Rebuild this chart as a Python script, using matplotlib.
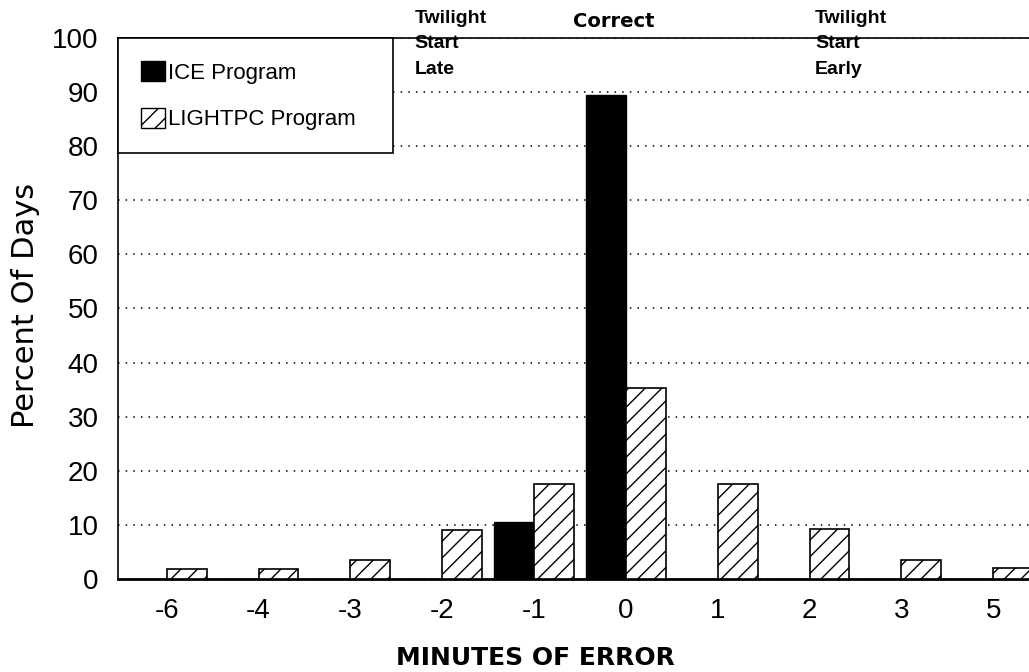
import matplotlib
matplotlib.use("Agg")
import matplotlib.pyplot as plt
from matplotlib.patches import Patch
from matplotlib import transforms
import numpy as np

# minutes of error categories
categories = ["-6", "-4", "-3", "-2", "-1", "0", "1", "2", "3", "5"]
ice_values = [0, 0, 0, 0, 10.5, 89.5, 0, 0, 0, 0]
lightpc_values = [1.8, 1.8, 3.6, 9.0, 17.6, 35.3, 17.6, 9.2, 3.6, 2.0]
y_ticks = [0, 10, 20, 30, 40, 50, 60, 70, 80, 90, 100]

plt.rcParams['font.family'] = ['Liberation Sans', 'DejaVu Sans']
plt.rcParams['hatch.linewidth'] = 1.0

fig = plt.figure(figsize=(10.29, 6.72), dpi=100)
ax = fig.add_axes([0.1147, 0.1384, 0.8853, 0.8051])

x = np.arange(len(categories))
w = 0.435
ax.bar(x - w / 2, ice_values, w, color="black", edgecolor="black", linewidth=1, zorder=3)
ax.bar(x + w / 2, lightpc_values, w, color="white", edgecolor="black", linewidth=1.2,
       hatch="//", zorder=3)

ax.set_xlim(-0.53, 9.39)
ax.set_ylim(0, 100)
ax.set_yticks(y_ticks)
ax.set_xticks(x)
ax.set_xticklabels(categories)
ax.tick_params(axis="both", length=0, labelsize=20)
ax.tick_params(axis="y", pad=14)
ax.tick_params(axis="x", pad=14)

ax.yaxis.grid(True, linestyle=(0, (1, 4)), color="black", linewidth=1.1)
ax.set_axisbelow(True)
ax.spines["right"].set_visible(False)
for s in ["left", "top"]:
    ax.spines[s].set_linewidth(1.2)
ax.spines["bottom"].set_linewidth(2)

ax.set_ylabel("Percent Of Days", fontsize=22, family="DejaVu Sans")
ax.yaxis.set_label_coords(-0.102, 0.506)
ax.yaxis.label.set_va("center")
ax.set_xlabel("MINUTES OF ERROR", fontsize=18, fontweight="bold", family="DejaVu Sans")
ax.xaxis.set_label_coords(0.458, -0.124)

handles = [Patch(facecolor="black", edgecolor="black", label="ICE Program"),
           Patch(facecolor="white", edgecolor="black", hatch="//", label="LIGHTPC Program")]
leg = ax.legend(handles=handles, loc="upper left", bbox_to_anchor=(0, 1, 0.302, 0),
                mode="expand", borderaxespad=0,
                fancybox=False, edgecolor="black", framealpha=1, fontsize=16,
                handlelength=1.1, handleheight=1.05, handletextpad=0.15,
                labelspacing=1.08, borderpad=1.02)
leg.get_frame().set_linewidth(1.2)
leg.set_zorder(5)

trans = transforms.blended_transform_factory(ax.transData, ax.transAxes)
ax.text(2.70, 1.052, "Twilight\nStart\nLate", transform=trans, ha="left", va="top",
        fontsize=14, fontweight="bold", linespacing=1.65)
ax.text(4.42, 1.048, "Correct", transform=trans, ha="left", va="top", fontsize=14,
        fontweight="bold", family="DejaVu Sans")
ax.text(7.06, 1.052, "Twilight\nStart\nEarly", transform=trans, ha="left", va="top",
        fontsize=14, fontweight="bold", linespacing=1.65)

fig.savefig("out.png", dpi=100)
